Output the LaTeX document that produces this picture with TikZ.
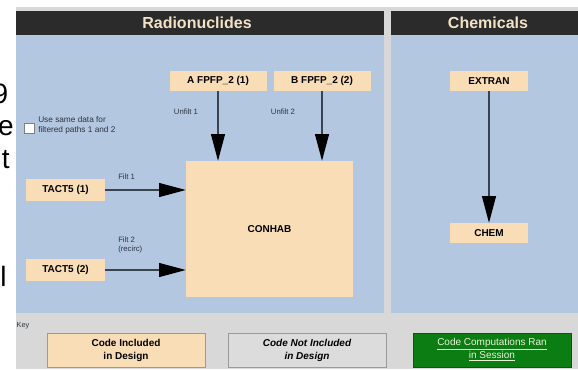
\documentclass[tikz,border=0pt]{standalone}
\usepackage{fontspec}
\setmainfont{Liberation Sans}
\usetikzlibrary{arrows.meta}
\definecolor{bgc}{HTML}{D8D8D8}
\definecolor{hdrc}{HTML}{2B2B2B}
\definecolor{hdrtext}{HTML}{F2E2C6}
\definecolor{panelc}{HTML}{B3C7E0}
\definecolor{tanc}{HTML}{F8DDB6}
\definecolor{linec}{HTML}{3A4250}
\definecolor{labelc}{HTML}{2E3440}
\definecolor{greenc}{HTML}{0B7D12}
\definecolor{greentext}{HTML}{E8F2D8}
\definecolor{keygray}{HTML}{DCDCDC}
\definecolor{keyborder}{HTML}{9A9A9A}
\tikzset{
  codebox/.style={fill=tanc, draw=none, inner sep=0pt, align=center,
    font=\fontsize{7.5}{9}\selectfont\bfseries},
  flowarrow/.style={draw=linec, line width=0.8pt,
    -{Triangle[length=20pt,width=10.5pt,color=black]}},
  lbl/.style={font=\fontsize{5.8}{7}\selectfont, text=labelc, inner sep=0pt, align=left},
  hdrtxt/.style={font=\fontsize{12}{14}\selectfont\bfseries, text=hdrtext},
  keybox/.style={draw=keyborder, line width=0.6pt, inner sep=0pt, align=center,
    minimum width=118.5pt, minimum height=25.5pt,
    font=\fontsize{7.5}{9.75}\selectfont},
  frag/.style={font=\fontsize{21}{25}\selectfont, inner sep=0pt, text=black}
}
\begin{document}
\begin{tikzpicture}[x=0.75pt,y=-0.75pt]
\useasboundingbox (0,0) rectangle (578,369);
\fill[white] (0,0) rectangle (578,369);
% text fragments at the left edge
\node[frag, anchor=base east] (f1) at (8.5,103) {9};
\node[frag, anchor=base east] (f2) at (14,135) {e};
\node[frag, anchor=base east] (f3) at (10,168) {t};
\node[frag, anchor=base west] (f4) at (0,286) {l};
% gray window
\fill[bgc] (16,7) rectangle (578,369);
\fill[hdrc] (16,11) rectangle (384,35);
\fill[panelc] (16,35) rectangle (384,313);
\fill[hdrc] (391,11) rectangle (578,35);
\fill[panelc] (391,35) rectangle (578,313);
\node[hdrtxt] (h1) at (197,23) {Radionuclides};
\node[hdrtxt] (h2) at (488,23) {Chemicals};
% radionuclides nodes
\node[codebox, minimum width=72.75pt, minimum height=15pt] (A) at (218,81) {A FPFP\_2 (1)};
\node[codebox, minimum width=72.75pt, minimum height=15pt] (B) at (322,81) {B FPFP\_2 (2)};
\node[codebox, minimum width=125.25pt, minimum height=102pt] (C) at (269.5,229) {CONHAB};
\node[codebox, minimum width=59.25pt, minimum height=16.5pt] (T1) at (65.5,190) {TACT5 (1)};
\node[codebox, minimum width=59.25pt, minimum height=16.5pt] (T2) at (65.5,270) {TACT5 (2)};
% chemicals nodes
\node[codebox, minimum width=58.5pt, minimum height=15pt] (E) at (489,81) {EXTRAN};
\node[codebox, minimum width=58.5pt, minimum height=15pt] (CH) at (489,233) {CHEM};
% arrows
\draw[flowarrow] (A.south) -- (A.south |- C.north);
\draw[flowarrow] (B.south) -- (B.south |- C.north);
\draw[flowarrow] (T1.east) -- (T1.east -| C.west);
\draw[flowarrow] (T2.east) -- (T2.east -| C.west);
\draw[flowarrow] (E.south) -- (CH.north);
% labels
\node[lbl] (u1) at (186,112) {Unfilt 1};
\node[lbl] (u2) at (283,112) {Unfilt 2};
\node[lbl, anchor=west] (l1) at (118,177) {Filt 1};
\node[lbl, anchor=west] (l2) at (118,245) {Filt 2\\(recirc)};
% checkbox
\node[draw=gray, fill=white, line width=0.5pt, minimum size=7.5pt, inner sep=0pt] (cb) at (29,128) {};
\node[lbl, anchor=west, font=\fontsize{6.2}{7.5}\selectfont] (cbt) at (38,125) {Use same data for\\filtered paths 1 and 2};
% key
\node[font=\fontsize{5.5}{6}\selectfont, text=labelc, inner sep=0pt] (key) at (23,326) {Key};
\node[keybox, fill=tanc, font=\fontsize{7.5}{9.75}\selectfont\bfseries] (k1) at (126,350) {Code Included\\in Design};
\node[keybox, fill=keygray, font=\fontsize{7.5}{9.75}\selectfont\bfseries\itshape] (k2) at (307,350) {Code Not Included\\in Design};
\node[keybox, fill=greenc, draw=greenc!70!black, text=greentext] (k3) at (492,350) {\underline{Code Computations Ran}\\\underline{in Session}};
\end{tikzpicture}
\end{document}
